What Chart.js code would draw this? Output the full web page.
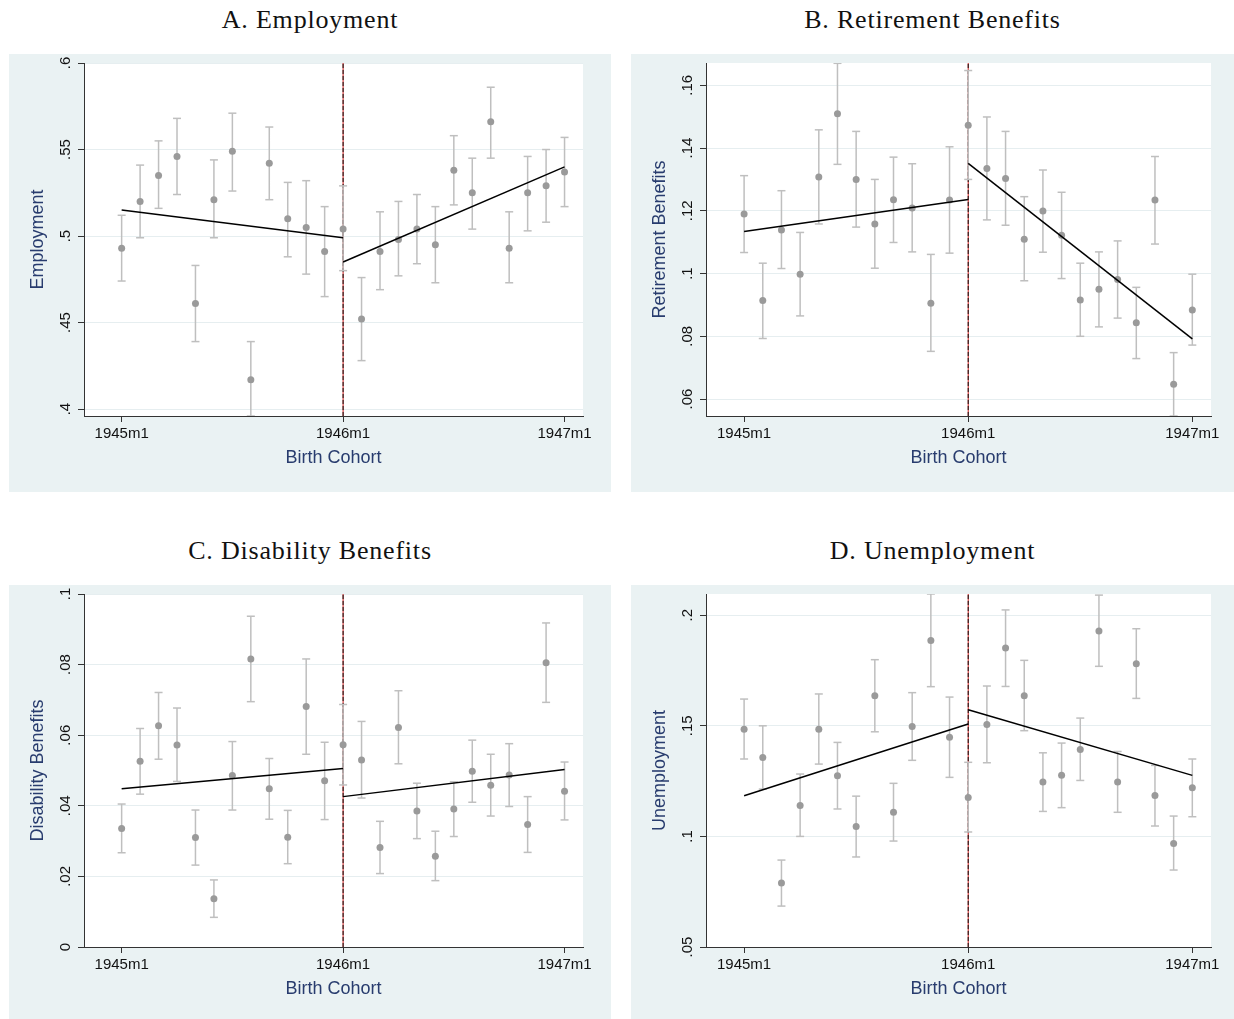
<!DOCTYPE html>
<html>
<head>
<meta charset="utf-8">
<script src="https://cdn.jsdelivr.net/npm/chart.js@4.4.0/dist/chart.umd.min.js"></script>
<style>
  body { margin: 0; background: #fff; width: 1234px; height: 1019px; position: relative; overflow: hidden; }
  .title { position: absolute; text-align: center; font-family: "Liberation Serif", "Times New Roman", serif;
           font-size: 26px; line-height: 30px; letter-spacing: 0.8px; color: #111; }
  .panel { position: absolute; background: #eaf2f3; }
  canvas { display: block; }
</style>
</head>
<body>
<div class="title" style="left:9px; top:5px; width:602px">A. Employment</div>
<div class="title" style="left:631px; top:5px; width:603px">B. Retirement Benefits</div>
<div class="title" style="left:9px; top:536px; width:602px">C. Disability Benefits</div>
<div class="title" style="left:631px; top:536px; width:603px">D. Unemployment</div>

<div class="panel" style="left:9px; top:54px; width:602px; height:438px"><canvas id="chartA" width="602" height="438"></canvas></div>
<div class="panel" style="left:631px; top:54px; width:603px; height:438px"><canvas id="chartB" width="603" height="438"></canvas></div>
<div class="panel" style="left:9px; top:585px; width:602px; height:434px"><canvas id="chartC" width="602" height="434"></canvas></div>
<div class="panel" style="left:631px; top:585px; width:603px; height:434px"><canvas id="chartD" width="603" height="434"></canvas></div>

<script>
// birth cohort, months since 1945m1 (0 = 1945m1 ... 24 = 1947m1)
const months = [0,1,2,3,4,5,6,7,8,9,10,11,12,13,14,15,16,17,18,19,20,21,22,23,24];
const cutoff = 12; // 1946m1
const xTickMonths = [0, 12, 24];
const xTickLabels = ['1945m1', '1946m1', '1947m1'];
const xRange = [-2.04, 25.0];

// A. Employment
const emp   = [0.493,0.520,0.535,0.546,0.461,0.521,0.549,0.417,0.542,0.510,0.505,0.491,0.504,0.452,0.491,0.498,0.504,0.495,0.538,0.525,0.566,0.493,0.525,0.529,0.537];
const empLo = [0.474,0.499,0.516,0.524,0.439,0.499,0.526,0.396,0.521,0.488,0.478,0.465,0.480,0.428,0.469,0.477,0.484,0.473,0.518,0.504,0.545,0.473,0.503,0.508,0.517];
const empHi = [0.512,0.541,0.555,0.568,0.483,0.544,0.571,0.439,0.563,0.531,0.532,0.517,0.529,0.476,0.514,0.520,0.524,0.517,0.558,0.545,0.586,0.514,0.546,0.550,0.557];
const empFitPre  = [0.515, 0.499];
const empFitPost = [0.485, 0.540];
const empTicks  = [0.4, 0.45, 0.5, 0.55, 0.6];
const empLabels = ['.4', '.45', '.5', '.55', '.6'];

// B. Retirement Benefits
const ret   = [0.1190,0.0914,0.1139,0.0998,0.1308,0.1509,0.1300,0.1158,0.1235,0.1209,0.0905,0.1234,0.1473,0.1335,0.1303,0.1109,0.1199,0.1122,0.0916,0.0950,0.0981,0.0843,0.1234,0.0647,0.0884];
const retLo = [0.1067,0.0793,0.1016,0.0865,0.1158,0.1348,0.1148,0.1017,0.1099,0.1069,0.0752,0.1065,0.1300,0.1171,0.1154,0.0977,0.1068,0.0984,0.0800,0.0830,0.0858,0.0729,0.1094,0.0546,0.0772];
const retHi = [0.1312,0.1033,0.1264,0.1131,0.1458,0.1670,0.1453,0.1300,0.1371,0.1350,0.1061,0.1404,0.1647,0.1499,0.1453,0.1245,0.1330,0.1259,0.1033,0.1069,0.1104,0.0956,0.1373,0.0748,0.0998];
const retFitPre  = [0.1134, 0.1236];
const retFitPost = [0.1351, 0.0792];
const retTicks  = [0.06, 0.08, 0.1, 0.12, 0.14, 0.16];
const retLabels = ['.06', '.08', '.1', '.12', '.14', '.16'];

// C. Disability Benefits
const dis   = [0.0336,0.0526,0.0627,0.0572,0.0310,0.0137,0.0486,0.0816,0.0448,0.0311,0.0681,0.0471,0.0573,0.0530,0.0282,0.0622,0.0385,0.0257,0.0391,0.0498,0.0458,0.0487,0.0347,0.0805,0.0441];
const disLo = [0.0267,0.0433,0.0532,0.0469,0.0232,0.0084,0.0388,0.0695,0.0362,0.0236,0.0546,0.0361,0.0459,0.0422,0.0208,0.0519,0.0307,0.0188,0.0313,0.0410,0.0371,0.0398,0.0268,0.0693,0.0360];
const disHi = [0.0405,0.0619,0.0721,0.0677,0.0388,0.0190,0.0582,0.0937,0.0534,0.0387,0.0816,0.0580,0.0687,0.0639,0.0356,0.0726,0.0464,0.0328,0.0468,0.0586,0.0546,0.0576,0.0426,0.0918,0.0524];
const disFitPre  = [0.0448, 0.0506];
const disFitPost = [0.0426, 0.0503];
const disTicks  = [0, 0.02, 0.04, 0.06, 0.08, 0.1];
const disLabels = ['0', '.02', '.04', '.06', '.08', '.1'];

// D. Unemployment
const unemp   = [0.1484,0.1357,0.0789,0.1140,0.1484,0.1274,0.1045,0.1636,0.1109,0.1497,0.1886,0.1448,0.1176,0.1506,0.1852,0.1636,0.1246,0.1276,0.1393,0.1929,0.1246,0.1781,0.1185,0.0968,0.1220];
const unempLo = [0.1350,0.1214,0.0685,0.1000,0.1327,0.1124,0.0907,0.1473,0.0979,0.1344,0.1677,0.1267,0.1020,0.1333,0.1678,0.1478,0.1113,0.1130,0.1253,0.1769,0.1109,0.1624,0.1047,0.0848,0.1089];
const unempHi = [0.1621,0.1500,0.0893,0.1282,0.1644,0.1425,0.1182,0.1799,0.1240,0.1650,0.2096,0.1630,0.1335,0.1680,0.2024,0.1796,0.1378,0.1422,0.1535,0.2091,0.1384,0.1939,0.1321,0.1092,0.1350];
const unempFitPre  = [0.1184, 0.1508];
const unempFitPost = [0.1573, 0.1276];
const unempTicks  = [0.05, 0.1, 0.15, 0.2];
const unempLabels = ['.05', '.1', '.15', '.2'];

const sansFont = '"Liberation Sans", Arial, sans-serif';
const titleColor = '#283c6e';
const pointColor = '#9a9a9a';
const barColor = '#bfbfbf';

// white plot region inside the bluish-gray graph region
const plotAreaWhite = {
    id: 'plotAreaWhite',
    beforeDraw(chart) {
        const { ctx, chartArea: a } = chart;
        ctx.save();
        ctx.fillStyle = '#ffffff';
        ctx.fillRect(a.left, a.top, a.right - a.left, a.bottom - a.top);
        ctx.restore();
    }
};

function makePanel(id, o) {
    // whiskers: lo -> hi per month, broken by nulls
    const whiskers = [];
    const caps = [];
    months.forEach((m, i) => {
        whiskers.push({ x: m, y: o.lo[i] }, { x: m, y: o.hi[i] }, { x: m, y: null });
        caps.push({ x: m, y: o.lo[i] }, { x: m, y: o.hi[i] });
    });
    const pts = months.map((m, i) => ({ x: m, y: o.est[i] }));
    const first = months[0], last = months[months.length - 1];

    new Chart(document.getElementById(id).getContext('2d'), {
        type: 'line',
        data: {
            datasets: [
                { data: [{ x: first, y: o.fitPre[0] }, { x: cutoff, y: o.fitPre[1] }],
                  borderColor: '#000', borderWidth: 1.5, pointRadius: 0, order: 1 },
                { data: [{ x: cutoff, y: o.fitPost[0] }, { x: last, y: o.fitPost[1] }],
                  borderColor: '#000', borderWidth: 1.5, pointRadius: 0, order: 1 },
                { data: pts, showLine: false, pointRadius: 3.5, pointBackgroundColor: pointColor,
                  pointBorderWidth: 0, order: 2 },
                { data: caps, showLine: false, pointStyle: 'line', pointRadius: 4,
                  pointBorderColor: barColor, pointBorderWidth: 1.5, order: 3 },
                { data: whiskers, borderColor: barColor, borderWidth: 1.5, pointRadius: 0,
                  spanGaps: false, order: 4 },
                // cutoff line: red with black dashes over it
                { data: [{ x: cutoff, y: o.yRange[0] }, { x: cutoff, y: o.yRange[1] }],
                  borderColor: '#111', borderWidth: 1, borderDash: [4, 2], pointRadius: 0, order: 5 },
                { data: [{ x: cutoff, y: o.yRange[0] }, { x: cutoff, y: o.yRange[1] }],
                  borderColor: '#c81818', borderWidth: 1, pointRadius: 0, order: 6 }
            ]
        },
        options: {
            responsive: false,
            animation: false,
            devicePixelRatio: 1,
            layout: { padding: { left: 18, right: o.padRight, top: 9, bottom: o.padBottom } },
            plugins: { legend: { display: false }, tooltip: { enabled: false } },
            scales: {
                x: {
                    type: 'linear', min: xRange[0], max: xRange[1],
                    afterBuildTicks: s => { s.ticks = xTickMonths.map(v => ({ value: v })); },
                    afterFit: s => { s.height = 53; s.paddingLeft = 0; s.paddingRight = 0; },
                    ticks: { color: '#111', padding: 3, maxRotation: 0, autoSkip: false,
                             font: { family: sansFont, size: 15 },
                             callback: (v, i) => xTickLabels[i] },
                    grid: { drawOnChartArea: false, tickColor: '#333', tickLength: 6 },
                    border: { display: true, color: '#333', width: 1 },
                    title: { display: true, text: 'Birth Cohort', color: titleColor, padding: 0,
                             font: { family: sansFont, size: 18 } }
                },
                y: {
                    type: 'linear', min: o.yRange[0], max: o.yRange[1],
                    afterBuildTicks: s => { s.ticks = o.yTicks.map(v => ({ value: v })); },
                    afterFit: s => { s.width = 57; s.paddingTop = 0; s.paddingBottom = 0; },
                    ticks: { color: '#111', padding: 2, minRotation: 90, maxRotation: 90,
                             crossAlign: 'center', autoSkip: false,
                             font: { family: sansFont, size: 15 },
                             callback: (v, i) => o.yLabels[i] },
                    grid: { color: '#e6eef0', lineWidth: 1, tickColor: '#333', tickLength: 6 },
                    border: { display: true, color: '#333', width: 1 },
                    title: { display: true, text: o.yTitle, color: titleColor, padding: 0,
                             font: { family: sansFont, size: 18 } }
                }
            }
        },
        plugins: [plotAreaWhite]
    });
}

makePanel('chartA', { est: emp, lo: empLo, hi: empHi, fitPre: empFitPre, fitPost: empFitPost,
    yRange: [0.396, 0.6], yTicks: empTicks, yLabels: empLabels, yTitle: 'Employment',
    padRight: 28, padBottom: 23 });
makePanel('chartB', { est: ret, lo: retLo, hi: retHi, fitPre: retFitPre, fitPost: retFitPost,
    yRange: [0.0546, 0.1671], yTicks: retTicks, yLabels: retLabels, yTitle: 'Retirement Benefits',
    padRight: 23, padBottom: 23 });
makePanel('chartC', { est: dis, lo: disLo, hi: disHi, fitPre: disFitPre, fitPost: disFitPost,
    yRange: [0, 0.1], yTicks: disTicks, yLabels: disLabels, yTitle: 'Disability Benefits',
    padRight: 28, padBottom: 19 });
makePanel('chartD', { est: unemp, lo: unempLo, hi: unempHi, fitPre: unempFitPre, fitPost: unempFitPost,
    yRange: [0.05, 0.2096], yTicks: unempTicks, yLabels: unempLabels, yTitle: 'Unemployment',
    padRight: 23, padBottom: 19 });
</script>
</body>
</html>
